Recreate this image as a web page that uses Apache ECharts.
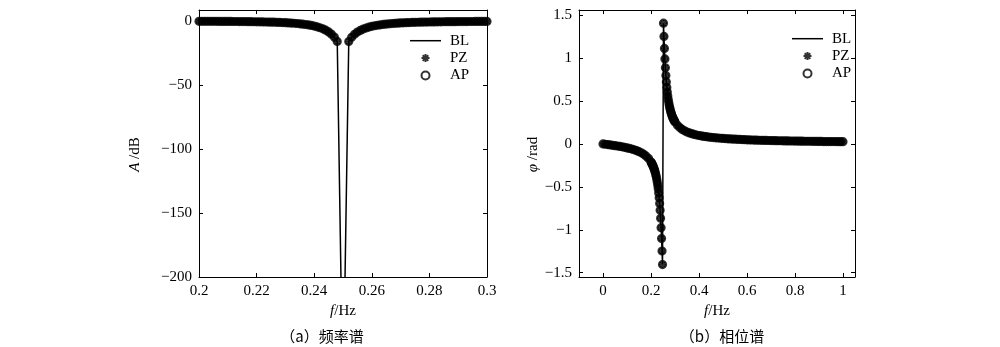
<!DOCTYPE html>
<html>
<head>
<meta charset="utf-8">
<script src="https://cdn.jsdelivr.net/npm/echarts@6/dist/echarts.min.js"></script>
<style>
html, body { margin: 0; padding: 0; background: #fff; }
#chart { width: 1000px; height: 347px; }
</style>
</head>
<body>
<div id="chart"></div>
<script>
// ---- data ---------------------------------------------------------------
// Amplitude response [f (Hz), A (dB)] around the 0.25 Hz notch
const ampPoints = [
  [0.200,-0.21],[0.201,-0.22],[0.202,-0.23],[0.203,-0.24],[0.204,-0.25],[0.205,-0.26],
  [0.206,-0.28],[0.207,-0.29],[0.208,-0.31],[0.209,-0.32],[0.210,-0.34],[0.211,-0.36],
  [0.212,-0.38],[0.213,-0.40],[0.214,-0.42],[0.215,-0.45],[0.216,-0.48],[0.217,-0.51],
  [0.218,-0.54],[0.219,-0.58],[0.220,-0.62],[0.221,-0.66],[0.222,-0.71],[0.223,-0.76],
  [0.224,-0.82],[0.225,-0.88],[0.226,-0.95],[0.227,-1.03],[0.228,-1.12],[0.229,-1.22],
  [0.230,-1.33],[0.231,-1.46],[0.232,-1.60],[0.233,-1.77],[0.234,-1.96],[0.235,-2.18],
  [0.236,-2.44],[0.237,-2.73],[0.238,-3.08],[0.239,-3.49],[0.240,-3.98],[0.241,-4.56],
  [0.242,-5.27],[0.243,-6.13],[0.244,-7.19],[0.245,-8.53],[0.246,-10.26],[0.247,-12.59],
  [0.248,-15.99],
  [0.252,-16.06],[0.253,-12.69],[0.254,-10.38],[0.255,-8.68],[0.256,-7.36],[0.257,-6.31],
  [0.258,-5.46],[0.259,-4.77],[0.260,-4.19],[0.261,-3.71],[0.262,-3.30],[0.263,-2.95],
  [0.264,-2.65],[0.265,-2.39],[0.266,-2.17],[0.267,-1.98],[0.268,-1.81],[0.269,-1.66],
  [0.270,-1.53],[0.271,-1.41],[0.272,-1.31],[0.273,-1.21],[0.274,-1.13],[0.275,-1.05],
  [0.276,-0.98],[0.277,-0.92],[0.278,-0.87],[0.279,-0.82],[0.280,-0.77],[0.281,-0.73],
  [0.282,-0.69],[0.283,-0.65],[0.284,-0.62],[0.285,-0.59],[0.286,-0.56],[0.287,-0.53],
  [0.288,-0.51],[0.289,-0.49],[0.290,-0.46],[0.291,-0.44],[0.292,-0.43],[0.293,-0.41],
  [0.294,-0.39],[0.295,-0.38],[0.296,-0.36],[0.297,-0.35],[0.298,-0.34],[0.299,-0.32],
  [0.300,-0.31]
];
// Baseline curve reaches the notch bottom (far below the plotted range)
const notchPoints = [[0.250,-300]];

// Phase response [f (Hz), phi (rad)]
const phasePoints = [
  [0.00,0.000],[0.01,-0.004],[0.02,-0.008],[0.03,-0.012],[0.04,-0.016],[0.05,-0.020],
  [0.06,-0.024],[0.07,-0.029],[0.08,-0.034],[0.09,-0.040],[0.10,-0.046],[0.11,-0.052],
  [0.12,-0.060],[0.13,-0.068],[0.14,-0.078],[0.15,-0.090],[0.16,-0.104],[0.17,-0.121],
  [0.18,-0.143],[0.19,-0.171],
  [0.200,-0.210],[0.202,-0.220],[0.204,-0.230],[0.206,-0.242],[0.208,-0.254],[0.210,-0.267],
  [0.212,-0.282],[0.214,-0.298],[0.216,-0.316],[0.218,-0.336],[0.220,-0.358],[0.222,-0.383],
  [0.224,-0.411],[0.226,-0.443],[0.228,-0.480],[0.230,-0.522],[0.232,-0.571],[0.234,-0.628],
  [0.236,-0.694],[0.238,-0.773],[0.240,-0.866],[0.242,-0.976],[0.244,-1.102],[0.246,-1.247],
  [0.248,-1.405],
  [0.252,1.406],[0.254,1.252],[0.256,1.112],[0.258,0.990],[0.260,0.886],[0.262,0.797],
  [0.264,0.722],[0.266,0.658],[0.268,0.604],[0.270,0.557],[0.272,0.517],[0.274,0.482],
  [0.276,0.451],[0.278,0.424],[0.280,0.400],[0.282,0.379],[0.284,0.359],[0.286,0.342],
  [0.288,0.326],[0.290,0.312],[0.292,0.299],[0.294,0.287],[0.296,0.276],[0.298,0.266],
  [0.300,0.256],
  [0.31,0.218],[0.32,0.190],[0.33,0.169],[0.34,0.153],[0.35,0.139],[0.36,0.128],
  [0.37,0.119],[0.38,0.111],[0.39,0.104],[0.40,0.098],[0.41,0.093],[0.42,0.088],
  [0.43,0.084],[0.44,0.080],[0.45,0.077],[0.46,0.074],[0.47,0.071],[0.48,0.069],
  [0.49,0.066],[0.50,0.064],[0.51,0.062],[0.52,0.060],[0.53,0.058],[0.54,0.057],
  [0.55,0.055],[0.56,0.054],[0.57,0.052],[0.58,0.051],[0.59,0.050],[0.60,0.048],
  [0.61,0.047],[0.62,0.046],[0.63,0.045],[0.64,0.044],[0.65,0.043],[0.66,0.042],
  [0.67,0.042],[0.68,0.041],[0.69,0.040],[0.70,0.039],[0.71,0.039],[0.72,0.038],
  [0.73,0.037],[0.74,0.037],[0.75,0.036],[0.76,0.035],[0.77,0.035],[0.78,0.034],
  [0.79,0.034],[0.80,0.033],[0.81,0.033],[0.82,0.032],[0.83,0.032],[0.84,0.031],
  [0.85,0.031],[0.86,0.031],[0.87,0.030],[0.88,0.030],[0.89,0.029],[0.90,0.029],
  [0.91,0.029],[0.92,0.028],[0.93,0.028],[0.94,0.028],[0.95,0.027],[0.96,0.027],
  [0.97,0.027],[0.98,0.026],[0.99,0.026],[1.00,0.026]
];

// Tick values
const ampFreqTicks  = [0.2, 0.22, 0.24, 0.26, 0.28, 0.3];
const ampDbTicks    = [-200, -150, -100, -50, 0];
const phaseFreqTicks = [0, 0.2, 0.4, 0.6, 0.8, 1];
const phaseRadTicks = [-1.5, -1, -0.5, 0, 0.5, 1, 1.5];

const seriesNames = ['BL', 'PZ', 'AP'];
const captions = ['（a）频率谱', '（b）相位谱'];

// ---- styling helpers ----------------------------------------------------
const SERIF = '"Liberation Serif", "Times New Roman", serif';
const ASTERISK = 'path://M5,0L5,10M0,5L10,5M1.5,1.5L8.5,8.5M1.5,8.5L8.5,1.5';
const DASH = 'path://M0,0H31V1.5H0Z';
const fmt = v => String(v).replace('-', '\u2212');

function axisBase(min, max, ticks, showLabel) {
  return {
    type: 'value', min: min, max: max,
    axisLine: { show: true, onZero: false, lineStyle: { color: '#000', width: 1 } },
    axisTick: { show: true, inside: true, length: 4, customValues: ticks,
                lineStyle: { color: '#000', width: 1 } },
    axisLabel: { show: showLabel, customValues: ticks, formatter: fmt,
                 fontFamily: SERIF, fontSize: 15, color: '#000', margin: 7 },
    splitLine: { show: false }
  };
}
function withName(ax, name, gap, extra) {
  return Object.assign(ax, {
    name: name, nameLocation: 'middle', nameGap: gap,
    nameTextStyle: Object.assign({
      fontFamily: SERIF, fontSize: 15, color: '#000',
      rich: { i: { fontFamily: SERIF, fontSize: 15, fontStyle: 'italic', color: '#000' } }
    }, extra || {})
  });
}

const grids = [
  { left: 199, top: 10, width: 288, height: 267 },
  { left: 579, top: 10, width: 276, height: 267 }
];

const xAxes = [
  withName(Object.assign(axisBase(0.2, 0.3, ampFreqTicks, true), { gridIndex: 0, position: 'bottom' }), '{i|f}/Hz', 27),
  Object.assign(axisBase(0.2, 0.3, ampFreqTicks, false), { gridIndex: 0, position: 'top' }),
  withName(Object.assign(axisBase(-0.1, 1.05, phaseFreqTicks, true), { gridIndex: 1, position: 'bottom' }), '{i|f}/Hz', 27),
  Object.assign(axisBase(-0.1, 1.05, phaseFreqTicks, false), { gridIndex: 1, position: 'top' })
];
const yAxes = [
  withName(Object.assign(axisBase(-200, 8.6, ampDbTicks, true), { gridIndex: 0, position: 'left' }), '{i|A} /dB', 56, { padding: [0, 22, 0, 0] }),
  Object.assign(axisBase(-200, 8.6, ampDbTicks, false), { gridIndex: 0, position: 'right' }),
  withName(Object.assign(axisBase(-1.55, 1.56, phaseRadTicks, true), { gridIndex: 1, position: 'left' }), '{i|\u03c6} /rad', 36, { padding: [0, 22, 0, 0] }),
  Object.assign(axisBase(-1.55, 1.56, phaseRadTicks, false), { gridIndex: 1, position: 'right' })
];

function panelSeries(points, linePoints, xi, yi) {
  return [
    { type: 'line', name: seriesNames[0], xAxisIndex: xi, yAxisIndex: yi, data: linePoints,
      symbol: 'none', showSymbol: false, clip: true,
      lineStyle: { color: '#000', width: 1.5 }, itemStyle: { color: '#000' } },
    { type: 'scatter', name: seriesNames[1], xAxisIndex: xi, yAxisIndex: yi, data: points,
      symbol: ASTERISK, symbolSize: 7, clip: true,
      itemStyle: { color: '#000', borderColor: '#000', borderWidth: 1.7 } },
    { type: 'scatter', name: seriesNames[2], xAxisIndex: xi, yAxisIndex: yi, data: points,
      symbol: 'circle', symbolSize: 7, clip: true,
      itemStyle: { color: 'rgba(0,0,0,0)', borderColor: '#000', borderWidth: 2.2 } }
  ];
}

const ampLine = ampPoints.concat(notchPoints).sort((a, b) => a[0] - b[0]);

function legendAt(left, top) {
  return {
    left: left, top: top, orient: 'vertical', padding: 0, itemGap: 0,
    itemWidth: 31, itemHeight: 8, selectedMode: false,
    data: [{ name: seriesNames[0], icon: DASH }, seriesNames[1], seriesNames[2]],
    textStyle: { fontFamily: SERIF, fontSize: 15, color: '#000', lineHeight: 17.4,
                 padding: [0, 0, 0, 4] }
  };
}

const option = {
  animation: false,
  backgroundColor: '#fff',
  grid: grids,
  xAxis: xAxes,
  yAxis: yAxes,
  legend: [legendAt(410, 32), legendAt(792, 30)],
  series: panelSeries(ampPoints, ampLine, 0, 0).concat(panelSeries(phasePoints, phasePoints, 2, 2)),
  graphic: [
    { type: 'text', x: 322, y: 336, style: { text: captions[0], fill: '#000',
      font: '15px "Noto Sans CJK SC"', textAlign: 'center', textVerticalAlign: 'middle' } },
    { type: 'text', x: 722, y: 336, style: { text: captions[1], fill: '#000',
      font: '15px "Noto Sans CJK SC"', textAlign: 'center', textVerticalAlign: 'middle' } }
  ]
};

const chart = echarts.init(document.getElementById('chart'), null, { renderer: 'canvas' });
chart.setOption(option);
</script>
</body>
</html>
